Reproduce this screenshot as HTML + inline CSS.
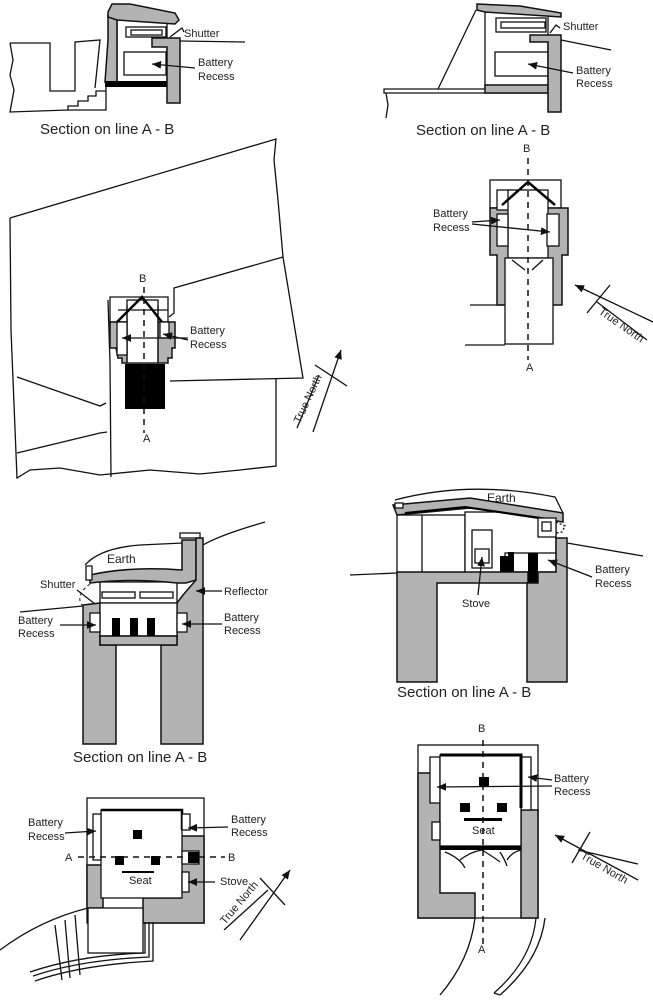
<!DOCTYPE html>
<html><head><meta charset="utf-8"><style>
html,body{margin:0;padding:0;background:#fff}
svg{display:block}
text{font-family:"Liberation Sans",sans-serif;font-size:11px;fill:#222}
.cap{font-size:15px}
.g{fill:#b3b3b3;stroke:#111;stroke-width:1.5}
.w{fill:#fff;stroke:#111;stroke-width:1.3}
.l{fill:none;stroke:#111;stroke-width:1.3}
.k{fill:#000}
.d{fill:none;stroke:#111;stroke-width:1.5;stroke-dasharray:6,5}
</style></head><body>
<svg width="653" height="1000" viewBox="0 0 653 1000" xmlns="http://www.w3.org/2000/svg">
<defs><marker id="a" markerWidth="8" markerHeight="8" refX="7" refY="4" orient="auto"><path d="M0,1 L7,4 L0,7z" fill="#111"/></marker></defs>

<!-- ===== Top-left section ===== -->
<path class="l" d="M10,43 L50,43 L50,91 L75,91 L75,42 L100,40 L95,88"/>
<path class="l" d="M10,43 L13,60 L10,75 L14,90 L10,112 L68,110"/>
<path class="w" d="M68,110 L68,106 L78,106 L78,101 L88,101 L88,96 L96,96 L96,91 L106,91 L106,84 L106,110 L68,110z"/>
<path class="w" d="M117,20 L167,20 L167,82 L117,82z"/>
<path class="g" d="M108,15 L117,15 L117,82 L105,82 L108,40z"/>
<path class="g" d="M108,12 L112,4 L130,4 L175,13 L179,20 L175,24 L117,20 L108,17z"/>
<rect class="w" x="126" y="27" width="40" height="10"/><rect class="w" x="131" y="30" width="31" height="5"/>
<rect class="w" x="124" y="52" width="42" height="23"/>
<rect class="k" x="105" y="81" width="62" height="6"/>
<path class="g" d="M152,38 L180,38 L180,103 L167,103 L167,47 L152,47z"/>
<path class="l" d="M180,41 L245,42"/>
<path class="l" d="M170,37 L182,28 L184,32"/>
<text x="184" y="37">Shutter</text>
<text x="198" y="66">Battery</text><text x="198" y="80">Recess</text>
<path class="l" d="M195,68 L152,64" marker-end="url(#a)"/>
<text class="cap" x="40" y="134">Section on line A - B</text>

<!-- ===== Top-right section ===== -->
<path class="l" d="M476,10 L438,89"/>
<path class="w" d="M384,89 L548,89 L548,93 L384,93z"/>
<path class="l" d="M386,93 L388,105 L386,118"/>
<rect class="w" x="485" y="12" width="63" height="76"/>
<path class="g" d="M477,4 L520,6 L561,13 L561,17 L485,12 L477,10z"/>
<rect class="w" x="496" y="18" width="50" height="14"/><rect class="w" x="501" y="22" width="44" height="6"/>
<rect class="w" x="495" y="52" width="53" height="24"/>
<rect class="g" x="485" y="85" width="63" height="8"/>
<path class="g" d="M530,35 L561,35 L561,112 L548,112 L548,42 L530,42z"/>
<path class="l" d="M561,40 L611,50"/>
<path class="l" d="M550,33 L556,25 L560,28"/>
<text x="563" y="30">Shutter</text>
<text x="576" y="74">Battery</text><text x="576" y="87">Recess</text>
<path class="l" d="M573,73 L528,64" marker-end="url(#a)"/>
<text class="cap" x="416" y="135">Section on line A - B</text>

<!-- ===== Middle-left plan ===== -->
<path class="l" d="M10,218 L276,139 L274,160 L278,200 L283,257 L303,378 L170,381"/>
<path class="l" d="M283,257 L174,288 L174,313 L169,317"/>
<path class="l" d="M10,218 L11,330 L17,478 L30,470 L60,468 L100,475 L150,470 L200,474 L240,470 L276,466 L276,378"/>
<path class="l" d="M17,377 L100,406 L106,403 M17,453 L100,433 L107,432"/>
<path class="l" d="M110,363 L108,300 M110,363 L111,477"/>
<path class="w" d="M110,297 L168,297 L168,322 L110,322z"/>
<path class="g" d="M110,322 L175,322 L175,348 L172,348 L172,358 L168,358 L168,363 L122,363 L122,358 L118,358 L116,348 L110,348z"/>
<rect class="w" x="127" y="300" width="31" height="63" stroke="none"/>
<path class="l" d="M127,305 L127,363 M158,305 L158,363"/>
<path class="l" d="M118,310 L168,310"/>
<rect class="w" x="117" y="322" width="10" height="33" fill="none"/>
<rect class="w" x="160" y="322" width="9" height="16" fill="none"/>
<path d="M117,322 L142,297 L162,322" fill="none" stroke="#000" stroke-width="2.5"/>
<rect class="k" x="125" y="364" width="40" height="45"/>
<path class="d" d="M144,287 L144,433"/>
<text x="139" y="282">B</text><text x="143" y="442">A</text>
<text x="190" y="334">Battery</text><text x="190" y="348">Recess</text>
<path class="l" d="M188,338 L122,338" marker-end="url(#a)"/><path class="l" d="M188,340 L163,334" marker-end="url(#a)"/>
<path class="l" d="M313,432 L341,350" marker-end="url(#a)"/>
<path class="l" d="M315,365 L347,386 M297,428 L319,375"/>
<text x="0" y="0" transform="translate(300,424) rotate(-65)">True North</text>

<!-- ===== Middle-right plan ===== -->
<rect class="w" x="490" y="180" width="71" height="28"/>
<path class="g" d="M490,208 L568,208 L568,255 L562,255 L562,305 L497,305 L497,255 L490,255z"/>
<rect class="w" x="497" y="190" width="15" height="20" fill="none"/>
<rect class="w" x="508" y="190" width="40" height="68"/>
<rect class="w" x="547" y="214" width="12" height="32" fill="none"/>
<rect class="w" x="497" y="214" width="11" height="32" fill="none"/>
<rect class="w" x="505" y="258" width="48" height="86"/>
<path d="M502,205 L528,182 L555,205" fill="none" stroke="#000" stroke-width="2.5"/>
<path class="l" d="M470,305 L505,305 M465,345 L505,345"/>
<path class="l" d="M512,260 L525,270 M543,260 L532,270"/>
<path class="d" d="M528,158 L528,360"/>
<text x="523" y="152">B</text><text x="526" y="371">A</text>
<text x="433" y="217">Battery</text><text x="433" y="231">Recess</text>
<path class="l" d="M472,222 L500,220" marker-end="url(#a)"/><path class="l" d="M472,224 L550,232" marker-end="url(#a)"/>
<path class="l" d="M653,322 L575,285" marker-end="url(#a)"/>
<path class="l" d="M597,302 L647,340 M587,313 L610,285"/>
<text x="0" y="0" transform="translate(598,313) rotate(35)">True North</text>

<!-- ===== Middle-left section ===== -->
<path class="l" d="M85,565 Q100,548 140,545 L183,543"/>
<text x="107" y="563" style="font-size:12px">Earth</text>
<path class="w" d="M100,582 L177,582 L177,603 L100,603z"/>
<rect class="w" x="102" y="592" width="33" height="6"/><rect class="w" x="140" y="592" width="33" height="6"/>
<path class="g" d="M90,575 Q130,566 182,570 L182,540 L196,540 L196,580 L186,583 L177,583 Q130,578 90,583z"/>
<rect class="w" x="180" y="533" width="20" height="5"/>
<path class="w" d="M86,566 L92,566 L92,580 L86,580z"/>
<path class="g" d="M83,605 L100,603 L100,645 L116,645 L116,744 L83,744z"/>
<path class="g" d="M177,603 L183,595 L196,580 L196,538 L203,538 L203,744 L161,744 L161,645 L177,645z"/>
<rect class="w" x="100" y="603" width="77" height="33"/>
<rect class="g" x="100" y="636" width="77" height="9"/>
<rect class="k" x="112" y="618" width="8" height="18"/><rect class="k" x="130" y="618" width="8" height="18"/><rect class="k" x="147" y="618" width="8" height="18"/>
<rect class="w" x="90" y="613" width="10" height="19"/><rect class="w" x="177" y="613" width="10" height="19"/>
<path class="l" d="M203,545 Q220,535 265,522"/>
<path class="l" d="M20,612 L83,606"/>
<path d="M90,584 Q75,595 82,605" fill="none" stroke="#111" stroke-dasharray="3,3"/>
<text x="40" y="588">Shutter</text>
<path class="l" d="M77,590 L95,604"/>
<text x="18" y="624">Battery</text><text x="18" y="637">Recess</text>
<path class="l" d="M60,625 L96,625" marker-end="url(#a)"/>
<text x="224" y="595">Reflector</text>
<path class="l" d="M222,591 L196,591" marker-end="url(#a)"/>
<text x="224" y="621">Battery</text><text x="224" y="634">Recess</text>
<path class="l" d="M222,624 L182,624" marker-end="url(#a)"/>
<text class="cap" x="73" y="762">Section on line A - B</text>

<!-- ===== Right section ===== -->
<path class="l" d="M395,500 Q470,480 555,497 L563,513"/>
<text x="487" y="502" style="font-size:12px">Earth</text>
<rect class="w" x="397" y="515" width="68" height="58"/>
<path class="l" d="M422,515 L422,572"/>
<rect class="w" x="465" y="512" width="91" height="61"/>
<path class="g" d="M393,505 L470,498 L563,513 L563,522 L470,508 L397,515z"/>
<path d="M405,513 L465,507 L555,520" fill="none" stroke="#000" stroke-width="2"/>
<rect class="w" x="395" y="503" width="8" height="5"/>
<rect class="w" x="472" y="530" width="20" height="38"/><rect class="w" x="475" y="549" width="14" height="14"/>
<rect class="w" x="505" y="553" width="51" height="19"/>
<path class="k" d="M500,556 L508,556 L508,552 L514,552 L514,572 L500,572z"/>
<rect class="k" x="528" y="553" width="10" height="30"/>
<rect class="w" x="538" y="518" width="18" height="19"/><rect class="w" x="542" y="522" width="9" height="9"/>
<path class="l" d="M556,522 L565,526 L562,532 L556,533" stroke-dasharray="2,2"/>
<path class="g" d="M397,572 L528,572 L528,583 L437,583 L437,682 L397,682z"/>
<path class="g" d="M538,572 L556,572 L556,538 L567,538 L567,682 L527,682 L527,583 L538,583z"/>
<path class="l" d="M567,543 L643,556 M350,575 L397,573"/>
<text x="462" y="607">Stove</text>
<path class="l" d="M478,595 L482,557" marker-end="url(#a)"/>
<text x="595" y="573">Battery</text><text x="595" y="587">Recess</text>
<path class="l" d="M592,577 L548,560" marker-end="url(#a)"/>
<text class="cap" x="397" y="697">Section on line A - B</text>

<!-- ===== Bottom-left plan ===== -->
<rect class="w" x="87" y="798" width="117" height="125"/>
<path class="g" d="M87,865 L103,865 L103,908 L87,908z"/>
<path class="g" d="M180,836 L204,836 L204,923 L143,923 L143,898 L180,898z"/>
<rect class="w" x="101" y="810" width="81" height="88"/>
<path d="M101,810 L182,810 L182,830" fill="none" stroke="#000" stroke-width="2.5"/>
<rect class="w" x="93" y="814" width="8" height="46"/><rect class="w" x="182" y="814" width="8" height="16"/>
<rect class="w" x="182" y="872" width="7" height="20"/>
<rect class="w" x="182" y="851" width="17" height="13"/>
<rect class="k" x="133" y="830" width="9" height="9"/><rect class="k" x="115" y="856" width="9" height="9"/><rect class="k" x="151" y="856" width="9" height="9"/><rect class="k" x="188" y="852" width="11" height="11"/>
<rect class="k" x="122" y="871" width="32" height="2"/>
<text x="129" y="884">Seat</text>
<rect class="w" x="88" y="908" width="55" height="45"/>
<path class="l" d="M0,950 Q40,920 88,908 M55,925 L62,980 M65,920 L70,978 M75,915 L80,975"/>
<path class="l" d="M30,972 Q80,955 145,953 L145,922 M33,976 Q80,960 149,957 L149,922 M35,981 Q80,965 153,961 L153,922"/>
<path class="d" d="M78,857 L225,857"/>
<text x="65" y="861">A</text><text x="228" y="861">B</text>
<text x="28" y="826">Battery</text><text x="28" y="840">Recess</text>
<path class="l" d="M65,833 L96,831" marker-end="url(#a)"/>
<text x="231" y="823">Battery</text><text x="231" y="836">Recess</text>
<path class="l" d="M228,827 L188,828" marker-end="url(#a)"/>
<text x="220" y="885">Stove</text>
<path class="l" d="M215,882 L188,882" marker-end="url(#a)"/>
<path class="l" d="M240,940 L290,870" marker-end="url(#a)"/>
<path class="l" d="M260,878 L285,905 M224,930 L268,890"/>
<text x="0" y="0" transform="translate(225,925) rotate(-50)">True North</text>

<!-- ===== Bottom-right plan ===== -->
<rect class="w" x="418" y="745" width="120" height="173"/>
<path class="g" d="M418,773 L440,773 L440,893 L475,893 L475,918 L418,918z"/>
<path class="g" d="M521,810 L538,810 L538,918 L521,918z"/>
<rect class="w" x="430" y="757" width="10" height="46"/><rect class="w" x="521" y="757" width="10" height="53"/>
<rect class="w" x="440" y="755" width="81" height="91"/>
<path d="M440,755 L521,755 L521,808" fill="none" stroke="#000" stroke-width="3"/>
<rect class="w" x="432" y="822" width="8" height="18"/>
<rect class="k" x="479" y="777" width="10" height="9"/><rect class="k" x="460" y="803" width="10" height="9"/><rect class="k" x="497" y="803" width="10" height="9"/>
<rect class="k" x="464" y="818" width="38" height="3"/>
<text x="472" y="834">Seat</text>
<rect class="k" x="440" y="846" width="81" height="4"/>
<path class="l" d="M445,852 Q460,858 465,868 M460,860 Q470,852 482,850 M482,850 Q495,858 500,862 M500,852 Q505,860 507,866 M507,860 Q512,852 521,850"/>
<path class="d" d="M483,740 L483,945"/>
<text x="478" y="732">B</text><text x="478" y="953">A</text>
<path class="l" d="M475,918 Q470,960 440,995 M545,918 Q540,960 500,995 M536,918 Q532,960 494,993 M500,995 L494,993"/>
<text x="554" y="782">Battery</text><text x="554" y="795">Recess</text>
<path class="l" d="M552,786 L437,787" marker-end="url(#a)"/><path class="l" d="M552,780 L528,777" marker-end="url(#a)"/>
<path class="l" d="M638,880 L555,835" marker-end="url(#a)"/>
<path class="l" d="M578,850 L638,864 M572,863 L590,832"/>
<text x="0" y="0" transform="translate(580,858) rotate(30)">True North</text>
</svg>
</body></html>
